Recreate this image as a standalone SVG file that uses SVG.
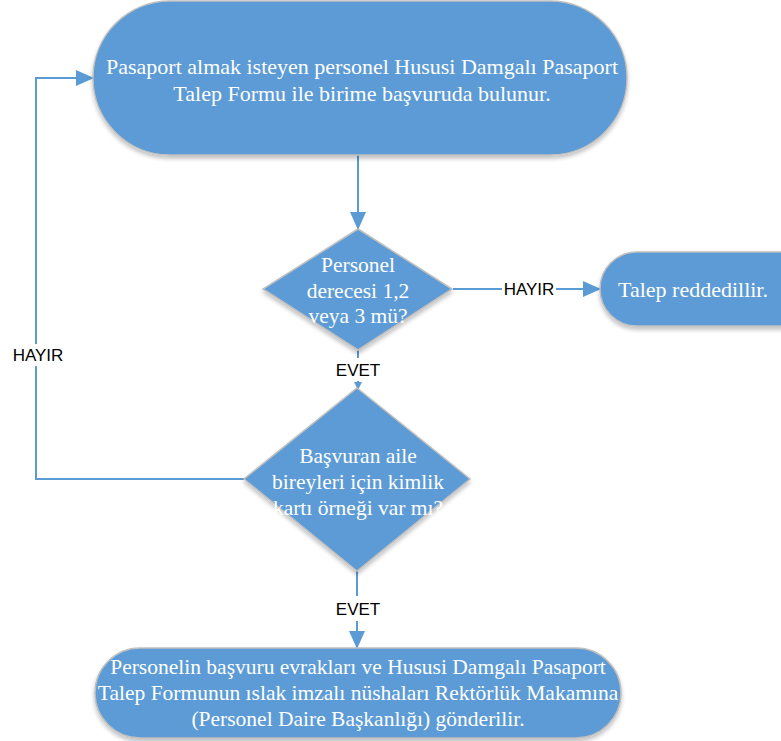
<svg xmlns="http://www.w3.org/2000/svg" width="781" height="741" viewBox="0 0 781 741">
<defs>
<filter id="sh" x="-10%" y="-10%" width="120%" height="130%">
<feGaussianBlur in="SourceAlpha" stdDeviation="2"/>
<feOffset dx="0" dy="3" result="b"/>
<feComponentTransfer><feFuncA type="linear" slope="0.25"/></feComponentTransfer>
<feMerge><feMergeNode/><feMergeNode in="SourceGraphic"/></feMerge>
</filter>
<marker id="ah" markerWidth="18" markerHeight="16" refX="17" refY="8" orient="auto" markerUnits="userSpaceOnUse" viewBox="0 0 18 16">
<path d="M0,0 L18,8 L0,16 z" fill="#5B9BD5"/>
</marker>
<marker id="as" markerWidth="8" markerHeight="8" refX="7" refY="4" orient="auto" markerUnits="userSpaceOnUse" viewBox="0 0 8 8">
<path d="M0,0 L8,4 L0,8 z" fill="#5B9BD5"/>
</marker>
</defs>
<style>
.n{fill:#5B9BD5;stroke:#BFBFBF;stroke-width:1.5;filter:url(#sh)}
.t{font-family:"Liberation Serif","Times New Roman",serif;font-size:21.5px;fill:#FFFFFF;text-anchor:middle}
.big{font-size:22px}
.c{fill:none;stroke:#5B9BD5;stroke-width:2}
.l{font-family:"Liberation Sans",Arial,sans-serif;font-size:17px;fill:#000000;text-anchor:middle}
</style>
<rect width="781" height="741" fill="#FFFFFF"/>
<g id="connectors">
<line class="c" x1="358" y1="155" x2="358" y2="229" marker-end="url(#ah)"/>
<line class="c" x1="453" y1="289" x2="502" y2="289"/>
<line class="c" x1="556" y1="289" x2="600" y2="289" marker-end="url(#ah)"/>
<line class="c" x1="358" y1="350" x2="358" y2="358"/>
<line class="c" x1="358" y1="381" x2="358" y2="389" marker-end="url(#as)"/>
<polyline class="c" points="244,479 36,479 36,366"/>
<polyline class="c" points="36,344 36,78 93,78" marker-end="url(#ah)"/>
<line class="c" x1="357" y1="571" x2="357" y2="596"/>
<line class="c" x1="357" y1="621" x2="357" y2="648" marker-end="url(#ah)"/>
<text class="l" x="529" y="295">HAYIR</text>
<text class="l" x="358" y="376">EVET</text>
<text class="l" x="38" y="361">HAYIR</text>
<text class="l" x="358" y="615">EVET</text>
</g>
<g id="start">
<rect class="n" x="93" y="1" width="534" height="154" rx="77" ry="77"/>
<text class="t big" x="362" y="74">Pasaport almak isteyen personel Hususi Damgalı Pasaport</text>
<text class="t big" x="362" y="101">Talep Formu ile birime başvuruda bulunur.</text>
</g>
<g id="decision1">
<polygon class="n" points="358,229 452,289 358,350 263,289"/>
<text class="t" x="358" y="272">Personel</text>
<text class="t" x="358" y="298">derecesi 1,2</text>
<text class="t" x="358" y="323">veya 3 mü?</text>
</g>
<g id="reject">
<rect class="n" x="600" y="252" width="220" height="74" rx="37" ry="37"/>
<text class="t big" x="693" y="297">Talep reddedillir.</text>
</g>
<g id="decision2">
<polygon class="n" points="357,388 470,479 357,571 244,479"/>
<text class="t" x="358" y="463">Başvuran aile</text>
<text class="t" x="358" y="489">bireyleri için kimlik</text>
<text class="t" x="358" y="515">kartı örneği var mı?</text>
</g>
<g id="end">
<rect class="n" x="95" y="648" width="526" height="90" rx="45" ry="45"/>
<text class="t" x="358" y="674">Personelin başvuru evrakları ve Hususi Damgalı Pasaport</text>
<text class="t" x="358" y="700">Talep Formunun ıslak imzalı nüshaları Rektörlük Makamına</text>
<text class="t" x="358" y="726">(Personel Daire Başkanlığı) gönderilir.</text>
</g>
</svg>
